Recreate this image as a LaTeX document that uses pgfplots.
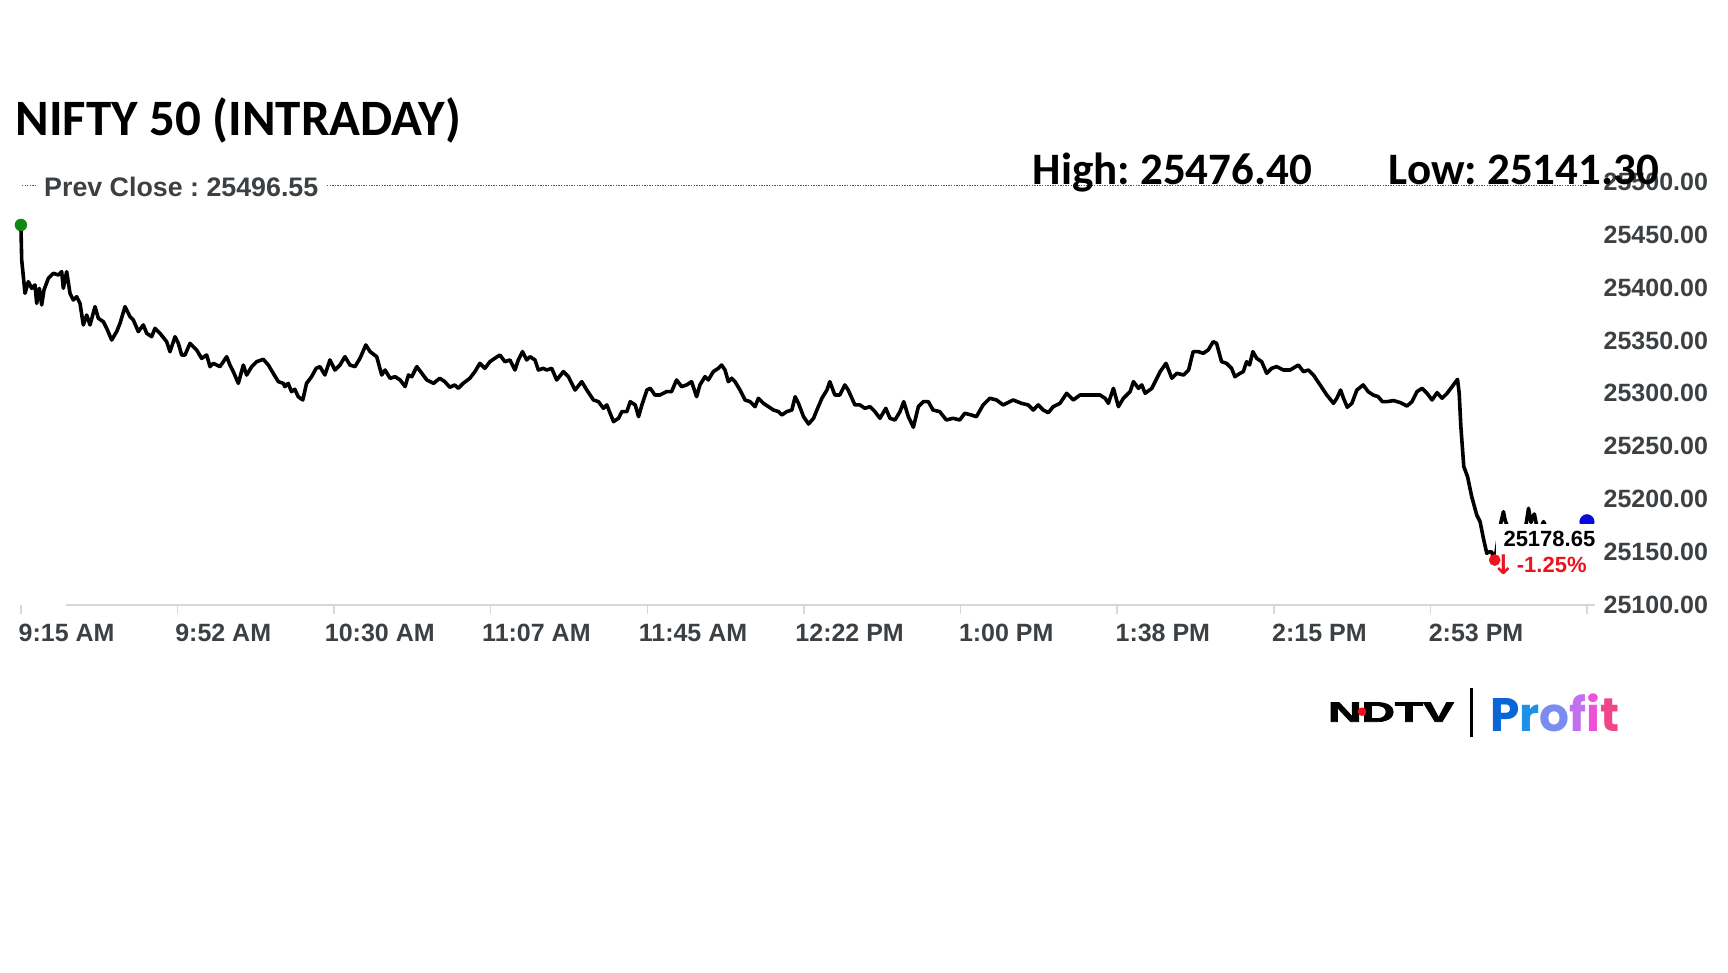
\documentclass[border=0pt]{standalone}
\usepackage{pgfplots}
\pgfplotsset{compat=1.18}
\usepackage{pgfplotstable}
\usepackage{graphicx}
\usepackage{fontspec}
\setmainfont{Liberation Sans}
\newfontfamily\carlito{Carlito}
\newfontfamily\poppins{Poppins}
\newfontfamily\dejavu{DejaVu Sans}
\newfontfamily\ndtv[BoldFeatures={FakeBold=2.5}]{Liberation Sans}
\definecolor{lblgray}{RGB}{60,64,67}
\definecolor{prevred}{RGB}{185,45,45}
\definecolor{axgray}{RGB}{215,215,215}
\definecolor{dotgreen}{RGB}{16,135,16}
\definecolor{dotred}{RGB}{235,20,30}
\definecolor{dotblue}{RGB}{10,10,220}
\definecolor{pA}{RGB}{10,102,216}
\definecolor{pB}{RGB}{30,144,232}
\definecolor{pC}{RGB}{122,140,240}
\definecolor{pD}{RGB}{192,112,240}
\definecolor{pE}{RGB}{240,80,216}
\definecolor{pF}{RGB}{240,69,138}

\pgfplotstableread{
t v
0 25459.2
0.19 25426.1
0.99 25394.6
1.78 25405.6
2.58 25399.3
3.38 25402.5
3.78 25385.1
4.42 25399.3
4.98 25383.6
5.53 25397.7
6.57 25408.8
7.77 25413.5
8.97 25411.9
9.76 25415.1
10.16 25399.3
10.96 25415.1
11.76 25394.6
12.56 25388.3
13.36 25391.4
14.15 25385.1
14.95 25364.7
15.75 25374.1
16.55 25364.7
17.75 25382.0
18.54 25371.0
19.74 25367.8
20.54 25361.5
21.74 25350.5
22.93 25358.4
23.73 25366.2
24.93 25382.0
26.13 25372.5
26.92 25369.4
28.12 25358.4
29.32 25364.7
30.12 25356.8
31.31 25353.6
32.11 25361.5
33.31 25356.8
34.90 25348.9
35.70 25339.4
36.90 25353.6
37.70 25347.3
38.50 25336.3
39.29 25336.3
40.49 25347.3
42.09 25341.0
43.28 25333.1
44.48 25336.3
45.28 25325.3
46.08 25328.4
47.67 25325.3
49.27 25334.7
50.07 25326.8
50.87 25320.5
52.06 25309.5
53.26 25326.8
54.06 25317.4
55.26 25325.3
56.45 25330.0
58.05 25332.2
59.25 25326.8
60.44 25318.9
61.64 25311.1
62.84 25309.5
63.2 25306.4
64.0 25309.5
64.8 25301.7
65.6 25303.9
66.4 25296.9
67.5 25293.8
68.4 25309.5
69.6 25315.8
70.7 25323.7
71.6 25325.3
72.8 25317.4
74.0 25331.6
75.2 25322.1
76.4 25326.8
77.6 25334.7
78.8 25326.8
80.0 25325.3
81.2 25333.2
82.6 25345.8
83.6 25339.5
85.2 25334.7
86.4 25317.4
87.2 25322.1
88.4 25314.3
89.6 25315.8
90.8 25312.7
92.0 25306.4
92.8 25317.4
93.6 25315.8
94.8 25325.3
96.0 25319.0
97.2 25312.7
98.8 25309.5
100.3 25314.3
101.5 25311.1
102.7 25305.8
103.9 25308.0
104.7 25304.8
105.9 25309.5
107.5 25314.3
108.7 25320.5
109.9 25328.4
111.1 25323.7
112.3 25330.0
113.5 25333.2
114.7 25336.3
115.9 25330.0
117.1 25331.6
118.3 25322.1
119.1 25331.6
120.1 25339.5
121.1 25331.6
121.9 25334.7
123.1 25331.6
123.9 25322.1
125.1 25323.7
125.9 25322.1
127.1 25323.7
128.3 25312.7
129.9 25320.6
131.1 25315.8
132.7 25303.2
134.3 25311.1
135.5 25303.2
137.1 25293.8
138.3 25292.2
139.5 25285.9
140.3 25289.1
141.9 25273.3
143.1 25276.5
143.9 25282.8
145.1 25282.8
145.9 25292.2
147.1 25289.1
147.9 25278.0
148.7 25289.1
149.9 25303.2
150.7 25304.8
151.8 25298.5
153.0 25298.5
154.6 25301.7
155.8 25301.7
157.0 25312.7
158.2 25306.4
159.4 25308.0
160.6 25311.1
161.8 25296.9
162.6 25308.0
163.8 25315.8
164.6 25312.7
165.8 25320.6
167.0 25323.7
167.8 25326.8
168.6 25322.1
169.4 25311.1
170.2 25314.3
171.0 25311.1
172.2 25303.2
173.4 25293.8
174.6 25292.2
175.8 25287.5
176.6 25295.4
177.8 25290.6
179.0 25287.5
180.2 25284.3
181.4 25282.8
182.2 25279.6
183.4 25282.8
184.6 25284.3
185.4 25296.9
186.2 25290.6
187.4 25278.0
188.6 25271.1
189.8 25276.5
190.6 25284.3
191.8 25295.4
193.0 25303.2
193.7 25311.1
194.9 25298.5
196.1 25298.5
197.3 25308.0
198.1 25303.2
199.7 25289.1
200.9 25289.1
202.1 25285.9
203.3 25287.5
204.5 25282.8
205.7 25276.5
207.1 25285.9
208.1 25276.5
209.3 25274.9
210.5 25282.8
211.4 25292.2
212.5 25278.0
213.7 25268.0
214.9 25287.5
216.1 25292.2
217.3 25292.2
218.4 25284.3
220.0 25282.8
221.6 25274.9
223.2 25276.5
224.8 25274.9
226.0 25281.2
227.6 25279.6
228.8 25278.0
230.4 25289.1
232.0 25295.4
233.6 25293.8
235.2 25289.1
237.6 25293.8
239.6 25290.6
241.2 25289.1
242.4 25284.3
243.6 25289.1
244.8 25284.3
246.0 25281.8
247.2 25287.5
248.8 25290.6
250.4 25300.1
252.0 25293.8
253.6 25298.5
255.2 25298.5
256.8 25298.5
258.4 25298.5
259.6 25295.4
260.4 25290.6
261.6 25304.8
262.8 25287.5
264.0 25295.4
265.6 25301.7
266.4 25311.1
267.6 25304.8
268.4 25308.0
269.2 25300.1
270.8 25304.8
271.6 25311.1
272.8 25320.6
274.2 25328.4
275.6 25314.3
276.8 25319.0
278.4 25317.4
279.6 25322.1
280.7 25339.5
281.9 25339.5
283.1 25337.9
284.3 25341.0
285.5 25348.9
286.3 25347.3
287.5 25330.0
288.7 25328.4
289.9 25323.7
290.7 25315.8
291.9 25319.0
292.7 25320.6
293.5 25330.0
294.2 25326.9
295.0 25339.5
295.9 25333.2
297.1 25330.0
298.3 25319.0
299.5 25323.7
300.7 25325.3
302.3 25322.1
303.9 25322.1
305.9 25326.8
307.1 25320.6
308.3 25322.1
309.5 25317.4
311.1 25308.0
312.7 25298.5
314.3 25290.6
315.1 25295.4
316.0 25303.2
316.7 25295.4
317.6 25286.9
318.7 25290.6
319.9 25303.2
321.4 25308.0
322.6 25301.7
323.8 25298.5
325.0 25296.9
326.0 25292.2
327.1 25292.2
328.7 25293.2
330.3 25291.3
331.9 25288.1
333.1 25292.2
334.3 25301.7
335.5 25304.8
336.7 25300.1
337.9 25293.8
339.1 25300.7
340.3 25295.4
341.5 25300.1
342.7 25306.4
344.0 25313.3
344.4 25300.1
344.8 25268.6
345.5 25230.8
346.4 25221.3
347.4 25202.4
348.6 25185.1
349.4 25178.8
350.2 25163.0
351.0 25148.9
351.7 25150.4
352.2 25150.0
352.9 25141.3
353.9 25168.0
354.5 25180.0
355.0 25188.2
355.4 25180.0
355.8 25176.0
356.5 25170.0
357.5 25173.0
358.5 25168.0
359.5 25172.0
360.4 25176.0
361.0 25191.4
361.6 25178.0
362.0 25183.0
362.4 25186.0
362.9 25176.0
363.6 25172.0
364.3 25176.0
364.6 25178.8
365.2 25174.0
366.5 25170.0
368.0 25172.0
369.5 25168.0
371.0 25172.0
372.5 25170.0
373.5 25174.0
374.3 25176.0
375.0 25178.65
}\niftydata

\begin{document}
\frenchspacing
\begin{tikzpicture}
\path[use as bounding box] (0pt,0pt) rectangle (1728pt,-972pt);
\begin{axis}[
  at={(20.9pt,-605pt)}, anchor=south west,
  scale only axis, width=1566.1pt, height=423.2pt,
  xmin=0, xmax=375, ymin=25100, ymax=25500,
  axis line style={draw=none},
  clip=false, clip marker paths=true,
  scaled x ticks=false, scaled y ticks=false,
  xtick={0,37.5,75,112.5,150,187.5,225,262.5,300,337.5,375},
  xticklabels={9:15 AM,9:52 AM,10:30 AM,11:07 AM,11:45 AM,12:22 PM,1:00 PM,1:38 PM,2:15 PM,2:53 PM,{}},
  ytick={25100,25150,25200,25250,25300,25350,25400,25450,25500},
  yticklabels={25100.00,25150.00,25200.00,25250.00,25300.00,25350.00,25400.00,25450.00,25500.00},
  yticklabel pos=right,
  major tick length=0pt,
  tick style={draw=none},
  xticklabel style={anchor=base, inner sep=0pt, xshift=45.7pt, yshift=-36pt, font=\fontsize{25}{30}\selectfont\bfseries, text=lblgray},
  yticklabel style={anchor=west, inner sep=0pt, xshift=16.5pt, font=\fontsize{25}{30}\selectfont\bfseries, text=lblgray},
]
% prev close dotted line
\draw[prevred, line width=1.3pt, dash pattern=on 1.3pt off 1.3pt] (axis cs:0.26,25496.55) -- (axis cs:3.6,25496.55);
\draw[prevred, line width=1.3pt, dash pattern=on 1.3pt off 1.3pt] (axis cs:73.3,25496.55) -- (axis cs:375,25496.55);
% baseline and ticks
\draw[axgray, line width=1.5pt] (axis cs:10.8,25100) -- (axis cs:377,25100);
\pgfplotsinvokeforeach{0,37.5,75,112.5,150,187.5,225,262.5,300,337.5,375}{
  \draw[axgray, line width=1.5pt] (axis cs:#1,25100) -- ++(0pt,-9pt);
}
\addplot[black, line width=3.6pt, line join=round, mark=none] table[x=t,y=v]{\niftydata};
\addplot[only marks, mark=*, mark size=6pt, color=dotgreen] coordinates {(0,25459.2)};
\addplot[only marks, mark=*, mark size=7.3pt, color=dotblue] coordinates {(375,25178.65)};
\fill[white] (axis cs:353.2,25176.8) rectangle (axis cs:377.8,25118);
\addplot[only marks, mark=*, mark size=5.6pt, color=dotred] coordinates {(352.9,25142.5)};
\end{axis}

% title and annotations
\node[anchor=base west, inner sep=0pt, font=\carlito\bfseries\fontsize{51}{60}\selectfont] at (15.4pt,-135.5pt) {NIFTY 50 (INTRADAY)};
\node[anchor=base west, inner sep=0pt, text=lblgray, font=\bfseries\fontsize{26.8}{32}\selectfont] at (44pt,-196.5pt) {Prev Close : 25496.55};
\node[anchor=base west, inner sep=0pt, font=\carlito\bfseries\fontsize{45}{54}\selectfont] at (1032.6pt,-184pt) {High: 25476.40};
\node[anchor=base west, inner sep=0pt, font=\carlito\bfseries\fontsize{45}{54}\selectfont] at (1388.5pt,-184pt) {Low: 25141.30};

% last value label
\node[anchor=base west, inner sep=0pt, font=\bfseries\fontsize{22}{26}\selectfont] at (1503.3pt,-546.7pt) {25178.65};
\node[anchor=center, inner sep=0pt, text=dotred, font=\dejavu\bfseries\fontsize{27}{30}\selectfont] at (1503.5pt,-565pt) {↓};
\node[anchor=base west, inner sep=0pt, text=dotred, font=\bfseries\fontsize{22}{26}\selectfont] at (1516.7pt,-572.7pt) {-1.25\%};

% logo
\node[anchor=base west, inner sep=0pt, font=\ndtv\bfseries\fontsize{28}{32}\selectfont] at (1328pt,-721.7pt) {\scalebox{1.65}[1]{NDTV}};
\fill[dotred] (1362pt,-711.7pt) circle (4.3pt);
\draw[black, line width=2.6pt] (1471.7pt,-688pt) -- (1471.7pt,-737pt);
\node[anchor=base west, inner sep=0pt, font=\poppins\bfseries\fontsize{47}{56}\selectfont] at (1490pt,-731.7pt) {\textcolor{pA}{P}\textcolor{pB}{r}\textcolor{pC}{o}\textcolor{pD}{f}\textcolor{pE}{i}\textcolor{pF}{t}};
\end{tikzpicture}
\end{document}
